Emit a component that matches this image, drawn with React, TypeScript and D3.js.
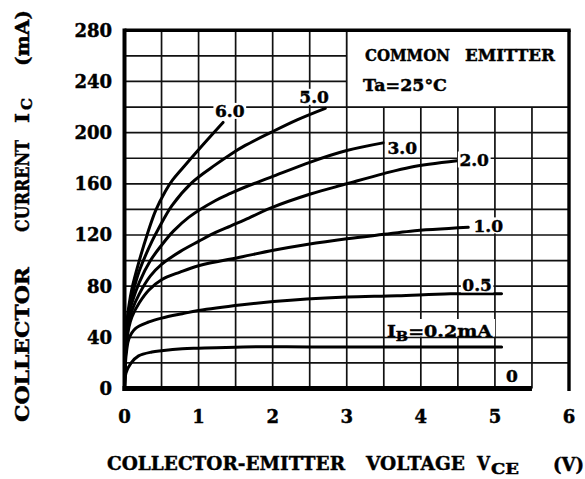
import React, { useEffect, useRef } from 'react';
import * as d3 from 'd3';

const W = 585;
const H = 479;
const FONT = '"DejaVu Serif", serif';

// axis ticks
const vceTicks = [0, 1, 2, 3, 4, 5, 6];
const icTicks = [0, 40, 80, 120, 160, 200, 240, 280];

// Ic (mA) vs Vce (V) for each base current
const ib60: [number, number][] = [[0, 0], [0.01, 28], [0.03, 50], [0.06, 65], [0.1, 78], [0.19, 98], [0.31, 121], [0.42, 139], [0.55, 154], [0.65, 163], [0.78, 172], [1.05, 190], [1.33, 208]];
const ib50: [number, number][] = [[0, 0], [0.01, 27], [0.03, 48], [0.06, 62], [0.1, 72], [0.2, 92], [0.37, 115], [0.46, 125], [0.64, 143], [0.91, 161], [1.23, 175], [1.43, 183], [1.63, 190], [1.97, 200], [2.33, 210], [2.71, 219]];
const ib30: [number, number][] = [[0, 0], [0.01, 26], [0.03, 45], [0.06, 58], [0.1, 67], [0.2, 83], [0.35, 100], [0.5, 112], [0.66, 123], [0.87, 134], [1.23, 147], [1.43, 152.5], [1.63, 157.5], [1.97, 165], [2.51, 177], [3.0, 186], [3.49, 192]];
const ib20: [number, number][] = [[0, 0], [0.01, 25], [0.03, 42], [0.06, 53], [0.1, 61], [0.2, 74], [0.35, 88], [0.5, 97], [0.75, 107], [1.0, 115], [1.23, 122], [1.43, 127], [1.63, 132], [1.97, 141], [2.51, 152], [3.0, 160], [3.5, 168], [3.86, 173], [4.49, 178]];
const ib10: [number, number][] = [[0, 0], [0.01, 22], [0.03, 37], [0.06, 48], [0.1, 56], [0.2, 67], [0.33, 77], [0.5, 85], [0.75, 91], [1.0, 96], [1.59, 103], [2.01, 108], [2.46, 112.5], [3.0, 117], [3.5, 120.5], [3.86, 123], [4.64, 126]];
const ib05: [number, number][] = [[0, 0], [0.01, 18], [0.03, 30], [0.06, 39], [0.15, 47], [0.33, 52], [0.5, 55], [0.78, 58.5], [1.0, 61], [1.59, 65.5], [2.01, 68], [2.46, 70], [3.0, 71.5], [3.68, 72.5], [4.4, 74], [5.09, 74]];
const ib02: [number, number][] = [[0, 0], [0.02, 12], [0.09, 20], [0.19, 25.5], [0.37, 28.5], [0.5, 29.5], [0.78, 31], [1.0, 31.5], [1.6, 32.5], [2.5, 32.5], [3.5, 32.5], [4.35, 32.5], [5.09, 32.5]];
const curves = [ib60, ib50, ib30, ib20, ib10, ib05, ib02];

// curve labels (text + where they sit in data units)
const curveLabels = ['6.0', '5.0', '3.0', '2.0', '1.0', '0.5', '0'];
const labelVce = [1.42, 2.56, 3.75, 4.72, 4.91, 4.76, 5.23];
const labelIc = [217, 228, 188.5, 179, 127.5, 81.3, 10.2];

export default function App() {
  const ref = useRef<SVGSVGElement>(null);

  useEffect(() => {
    if (!ref.current) return;
    const svg = d3.select(ref.current);
    svg.selectAll('*').remove();

    const x = d3.scaleLinear().domain([0, 6]).range([124.5, 569]);
    const y = d3.scaleLinear().domain([0, 280]).range([388.5, 30.3]);

    svg.append('rect').attr('width', W).attr('height', H).attr('fill', '#fff');

    // grid
    const grid = svg.append('g').attr('stroke', '#111').attr('stroke-width', 1.7);
    d3.range(0.5, 6, 0.5).forEach(v => {
      grid.append('line').attr('x1', x(v)).attr('x2', x(v)).attr('y1', y(0)).attr('y2', y(280));
    });
    d3.range(20, 280, 20).forEach(v => {
      grid.append('line').attr('x1', x(0)).attr('x2', x(6)).attr('y1', y(v)).attr('y2', y(v));
    });

    const txt = (sel: any) => sel
      .attr('font-family', FONT).attr('font-weight', 'bold')
      .attr('fill', '#000').attr('stroke', '#000').attr('stroke-width', 0.45);

    // condition box top right
    svg.append('rect')
      .attr('x', x(3)).attr('y', y(280))
      .attr('width', x(6) - x(3)).attr('height', y(220) - y(280))
      .attr('fill', '#fff').attr('stroke', '#111').attr('stroke-width', 1.7);
    const cond = txt(svg.append('g')).attr('font-size', 17);
    cond.append('text').attr('x', 365).attr('y', 61)
      .attr('textLength', 85).attr('lengthAdjust', 'spacingAndGlyphs').text('COMMON');
    cond.append('text').attr('x', 465).attr('y', 61)
      .attr('textLength', 90).attr('lengthAdjust', 'spacingAndGlyphs').text('EMITTER');
    cond.append('text').attr('x', 363).attr('y', 91)
      .attr('textLength', 84).attr('lengthAdjust', 'spacingAndGlyphs').text('Ta=25°C');

    // curves
    const line = d3.line<[number, number]>()
      .x(d => x(d[0])).y(d => y(d[1]))
      .curve(d3.curveCatmullRom.alpha(0.5));
    svg.append('g').selectAll('path').data(curves).join('path')
      .attr('d', d => line(d))
      .attr('fill', 'none').attr('stroke', '#000').attr('stroke-width', 3)
      .attr('stroke-linecap', 'round');

    // curve labels with white background
    const lab = txt(svg.append('g')).attr('font-size', 17);
    curveLabels.forEach((t, i) => {
      const g = lab.append('g');
      const tx = g.append('text')
        .attr('x', x(labelVce[i])).attr('y', y(labelIc[i]) + 6.5)
        .attr('text-anchor', 'middle').text(t);
      if (t !== '0') {
        const b = (tx.node() as SVGTextElement).getBBox();
        g.insert('rect', 'text').attr('x', b.x - 1.5).attr('y', y(labelIc[i]) - 8)
          .attr('width', b.width + 3).attr('height', 16)
          .attr('fill', '#fff').attr('stroke', 'none');
      }
    });
    // I_B = 0.2mA label
    const ibg = lab.append('g');
    ibg.append('rect').attr('x', 385).attr('y', 319).attr('width', 110).attr('height', 17.5)
      .attr('fill', '#fff').attr('stroke', 'none');
    const ibt = ibg.append('text').attr('x', 387).attr('y', 336.5)
      .attr('textLength', 105).attr('lengthAdjust', 'spacingAndGlyphs');
    ibt.append('tspan').text('I');
    ibt.append('tspan').attr('font-size', 13).attr('dy', 4).text('B');
    ibt.append('tspan').attr('dy', -4).text('=0.2mA');

    // frame
    const frame = svg.append('g').attr('stroke', '#000');
    frame.append('line').attr('x1', x(0)).attr('x2', x(6) + 1.7).attr('y1', y(280)).attr('y2', y(280)).attr('stroke-width', 3.4);
    frame.append('line').attr('x1', x(6)).attr('x2', x(6)).attr('y1', y(280)).attr('y2', y(0) + 2.5).attr('stroke-width', 3.4);
    frame.append('line').attr('x1', x(0)).attr('x2', x(0)).attr('y1', y(280) - 1.7).attr('y2', y(0) + 2.5).attr('stroke-width', 4);
    frame.append('line').attr('x1', x(0) - 2).attr('x2', x(5.5)).attr('y1', y(0)).attr('y2', y(0)).attr('stroke-width', 5);

    // tick labels
    const ticks = txt(svg.append('g')).attr('font-size', 18);
    icTicks.forEach(v => {
      ticks.append('text').attr('x', 112).attr('y', y(v) + 6.5)
        .attr('text-anchor', 'end').text(String(v));
    });
    vceTicks.forEach(v => {
      ticks.append('text').attr('x', x(v)).attr('y', 423)
        .attr('text-anchor', 'middle').text(String(v));
    });

    // axis titles
    const titles = txt(svg.append('g')).attr('font-size', 19);
    const xt = (s: string, x0: number, len: number, yb: number, fs = 19) =>
      titles.append('text').attr('x', x0).attr('y', yb).attr('font-size', fs)
        .attr('textLength', len).attr('lengthAdjust', 'spacingAndGlyphs').text(s);
    xt('COLLECTOR-EMITTER', 107, 238, 470);
    xt('VOLTAGE', 366, 99, 470);
    xt('V', 477, 13, 470);
    xt('CE', 491, 28, 474, 15);
    titles.append('text').attr('x', 553).attr('y', 471).attr('font-size', 18).text('(V)');

    const yg = titles.append('g').attr('transform', 'translate(29,0) rotate(-90)');
    const yt = (s: string, p0: number, len: number, base = 0, fs = 19) =>
      yg.append('text').attr('x', -p0).attr('y', base).attr('font-size', fs)
        .attr('textLength', len).attr('lengthAdjust', 'spacingAndGlyphs').text(s);
    yt('COLLECTOR', 422, 155);
    yt('CURRENT', 232, 92);
    yt('I', 123, 10);
    yt('C', 110, 12, 3, 15);
    yt('(mA)', 66, 56, 0, 19);
  }, []);

  return (
    <svg ref={ref} width={W} height={H}
      style={{ position: 'absolute', left: 0, top: 0, background: '#fff' }} />
  );
}
